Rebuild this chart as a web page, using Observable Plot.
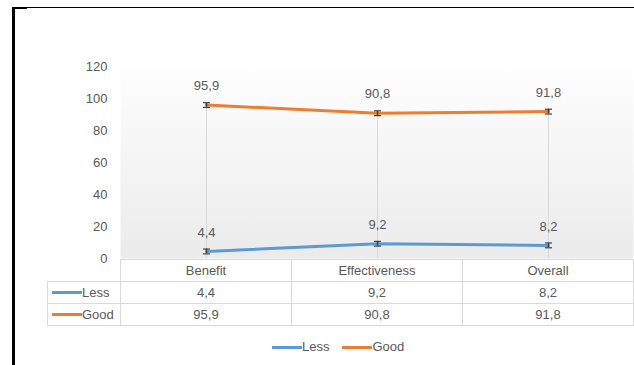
<!DOCTYPE html>
<html>
<head>
<meta charset="utf-8">
<script src="https://cdn.jsdelivr.net/npm/d3@7"></script>
<script src="https://cdn.jsdelivr.net/npm/@observablehq/plot@0.6"></script>
<style>
  html, body { margin: 0; padding: 0; background: #fff; }
  #wrap { position: relative; width: 634px; height: 365px; overflow: hidden; font-family: "Liberation Sans", Arial, sans-serif; color: #595959; }
  #chart { position: absolute; left: 0; top: 0; }
  .bl { position: absolute; background: #000; }
  table { position: absolute; left: 47px; top: 259px; border-collapse: collapse; table-layout: fixed; width: 586px; font-size: 13px; color: #595959; }
  td { border: 1px solid #d9d9d9; padding: 0; text-align: center; height: 21px; line-height: 20px; background: #fff; white-space: nowrap; }
  td.empty { border: none; background: transparent; }
  td.lab { text-align: left; }
  .sw { display: inline-block; width: 30px; height: 3px; vertical-align: middle; margin-left: 4px; margin-top: -2px; }
  #legend { position: absolute; left: 272px; top: 339px; display: flex; align-items: center; font-size: 13px; color: #595959; line-height: 16px; }
  #legend .sw { margin-left: 0; margin-top: 0; }
  #legend .item { display: flex; align-items: center; margin-right: 13px; }
</style>
</head>
<body>
<div id="wrap">
  <div id="chart"></div>
  <div class="bl" style="left:12px;top:7px;width:622px;height:1px;"></div>
  <div class="bl" style="left:12px;top:7px;width:15px;height:2px;"></div>
  <div class="bl" style="left:12px;top:7px;width:3px;height:358px;"></div>
  <table id="tbl"></table>
  <div id="legend"></div>
</div>
<script>
const categories = ["Benefit", "Effectiveness", "Overall"];
const seriesNames = ["Less", "Good"];
const seriesColors = ["#5B9BD5", "#ED7D31"];
const lessValues = [4.4, 9.2, 8.2];
const goodValues = [95.9, 90.8, 91.8];
const lessErrors = [1.5, 1.5, 1.5];
const goodErrors = [1.5, 1.5, 1.5];
const yTicks = [0, 20, 40, 60, 80, 100, 120];

const fmt = v => v.toFixed(1).replace(".", ",");
const seriesValues = [lessValues, goodValues];
const seriesErrors = [lessErrors, goodErrors];

const data = [];
seriesNames.forEach((s, si) => {
  categories.forEach((c, ci) => {
    data.push({ cat: c, series: s, value: seriesValues[si][ci], err: seriesErrors[si][ci] });
  });
});

const capSymbol = {
  draw(ctx, size) {
    const w = Math.sqrt(size / Math.PI);
    ctx.moveTo(-w, 0);
    ctx.lineTo(w, 0);
  }
};

const font = '"Liberation Sans", Arial, sans-serif';

const svg = Plot.plot({
  width: 634,
  height: 259,
  marginLeft: 120,
  marginRight: 1,
  marginTop: 66,
  marginBottom: 1,
  style: { fontFamily: font, fontSize: "13px", color: "#595959", background: "transparent", overflow: "visible" },
  x: { type: "point", domain: categories, padding: 0.5, align: 0.5, axis: null },
  y: { domain: [0, 120], ticks: yTicks, tickSize: 0, tickPadding: 13, tickFormat: d => String(d), label: null },
  color: { domain: seriesNames, range: seriesColors },
  marks: [
    Plot.frame({ fill: "url(#bgGrad)", stroke: null, insetTop: -10 }),
    Plot.ruleX(categories, { x: d => d, y1: 0, y2: (d, i) => goodValues[i], stroke: "#d9d9d9", strokeWidth: 1 }),
    Plot.line(data, { x: "cat", y: "value", z: "series", stroke: d => seriesColors[seriesNames.indexOf(d.series)], strokeWidth: 3, strokeLinecap: "round" }),
    Plot.ruleX(data, { x: "cat", y1: d => d.value - d.err, y2: d => d.value + d.err, stroke: "#404040", strokeWidth: 1.5 }),
    Plot.dot(data, { x: "cat", y: d => d.value - d.err, symbol: capSymbol, r: 3.5, stroke: "#404040", strokeWidth: 1.2, fill: "none" }),
    Plot.dot(data, { x: "cat", y: d => d.value + d.err, symbol: capSymbol, r: 3.5, stroke: "#404040", strokeWidth: 1.2, fill: "none" }),
    Plot.text(data, { x: "cat", y: "value", text: d => fmt(d.value), dy: -19, fill: "#595959", fontSize: 13, fontFamily: font })
  ]
});

const defs = d3.select(svg).insert("defs", ":first-child");
const grad = defs.append("linearGradient").attr("id", "bgGrad").attr("x1", 0).attr("y1", 0).attr("x2", 0).attr("y2", 1);
grad.append("stop").attr("offset", "0%").attr("stop-color", "#ffffff");
grad.append("stop").attr("offset", "100%").attr("stop-color", "#ebebeb");

document.getElementById("chart").appendChild(svg);

// data table
const tbl = d3.select("#tbl");
const cg = tbl.append("colgroup");
cg.append("col").style("width", "73px");
categories.forEach(() => cg.append("col").style("width", "171px"));
const hr = tbl.append("tr");
hr.append("td").attr("class", "empty");
categories.forEach(c => hr.append("td").text(c));
seriesNames.forEach((s, si) => {
  const tr = tbl.append("tr");
  const lab = tr.append("td").attr("class", "lab");
  lab.append("span").attr("class", "sw").style("background", seriesColors[si]);
  lab.append("span").text(s);
  seriesValues[si].forEach(v => tr.append("td").text(fmt(v)));
});

// legend
const lg = d3.select("#legend");
seriesNames.forEach((s, si) => {
  const it = lg.append("div").attr("class", "item");
  it.append("span").attr("class", "sw").style("background", seriesColors[si]);
  it.append("span").text(s);
});
</script>
</body>
</html>
